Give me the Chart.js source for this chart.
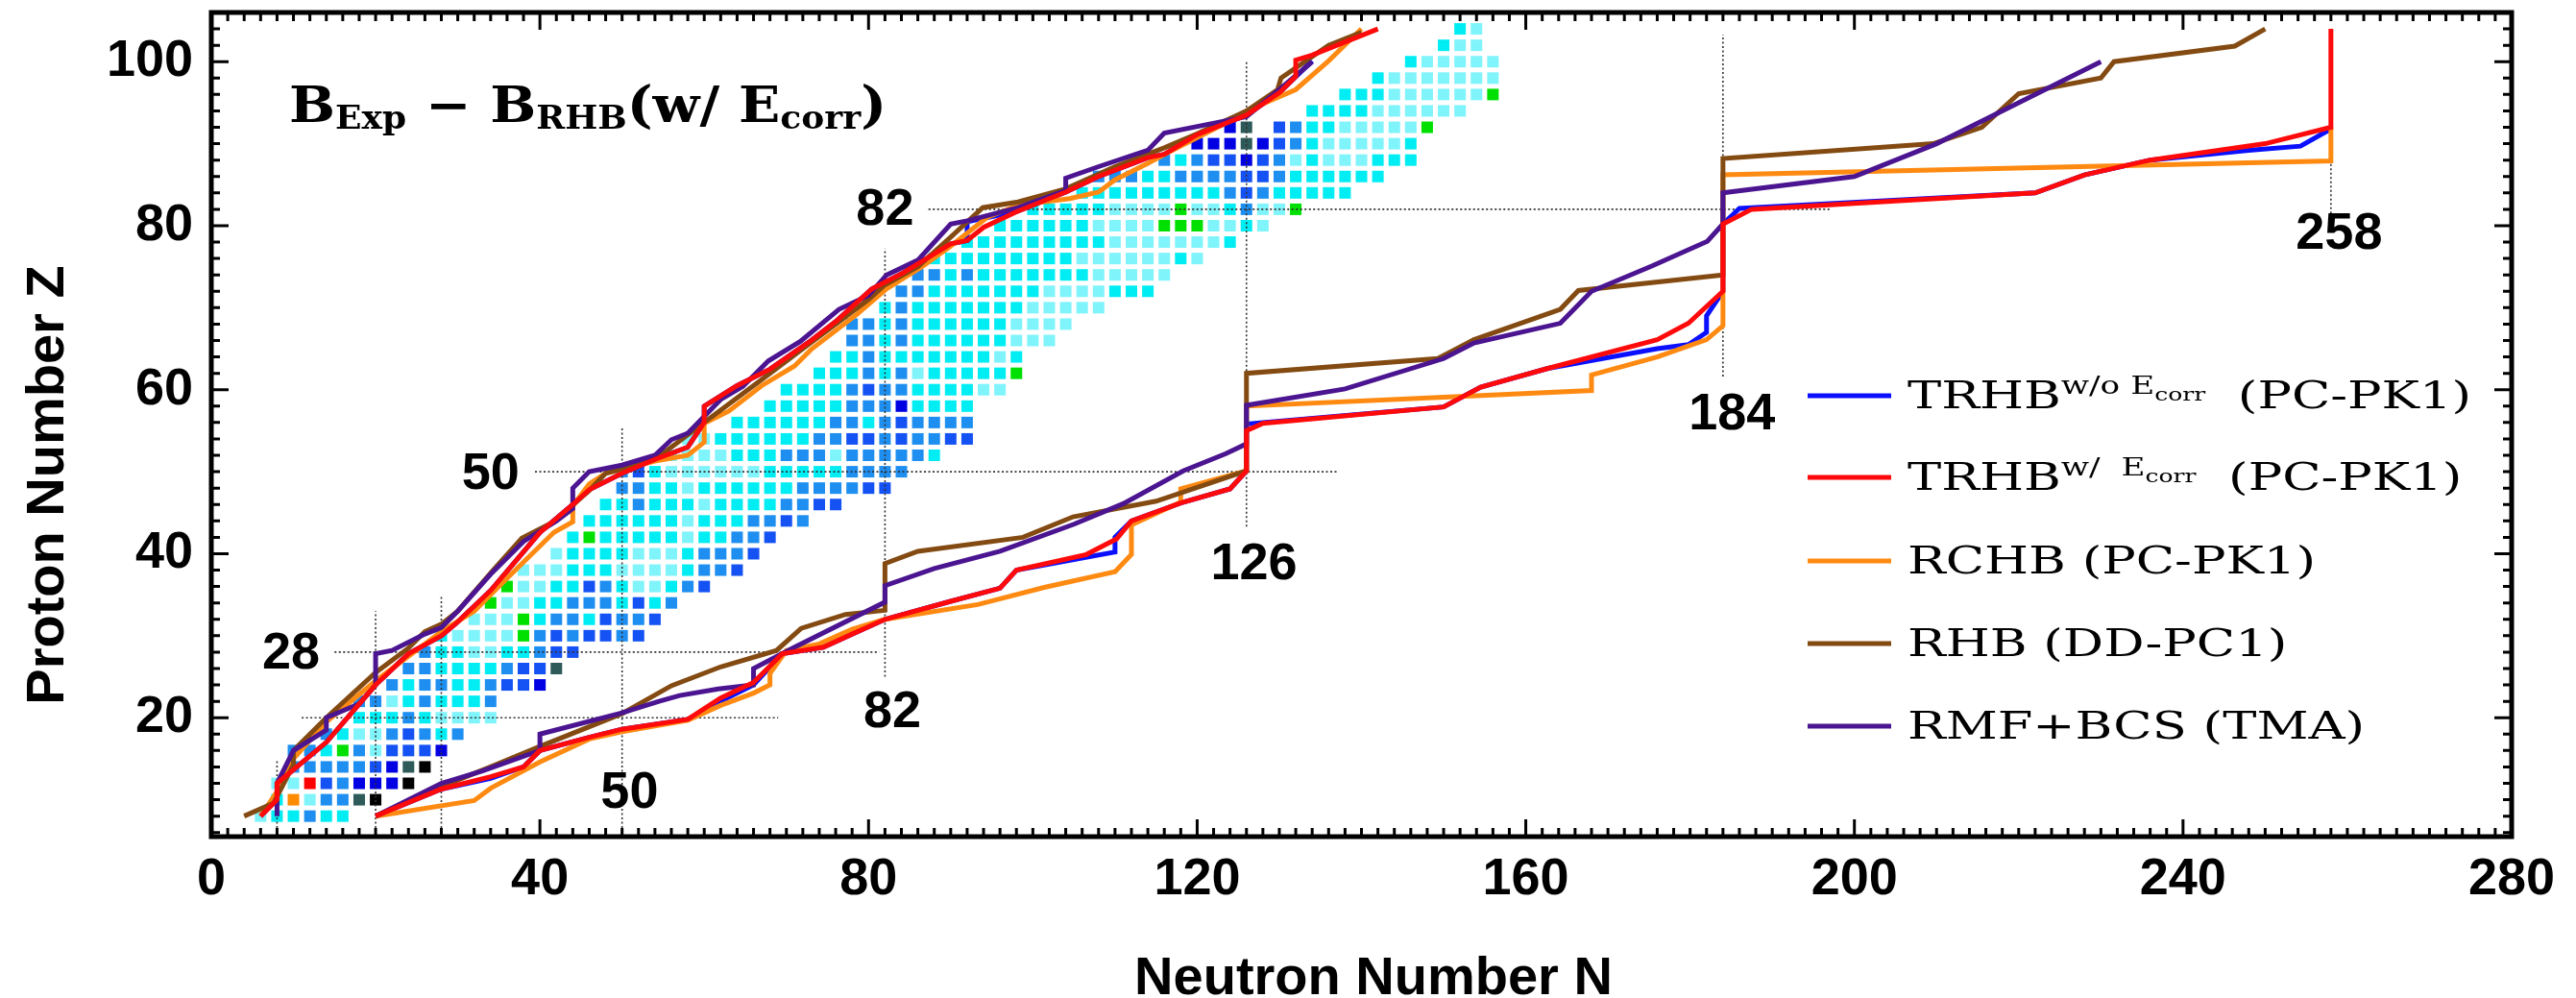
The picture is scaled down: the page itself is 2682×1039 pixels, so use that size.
<!DOCTYPE html>
<html>
<head>
<meta charset="utf-8">
<script src="https://cdn.jsdelivr.net/npm/chart.js@4.4.1/dist/chart.umd.min.js"></script>
<style>
  html, body { margin: 0; background: #fff; }
  canvas { display: block; }
</style>
</head>
<body>
<canvas id="chart" width="2682" height="1039"></canvas>
<script>
// --- axis ticks ---
const xTickValues = [0, 40, 80, 120, 160, 200, 240, 280];
const yTickValues = [20, 40, 60, 80, 100];

// --- experimental even-even nuclei: one row per Z, squares every 2 in N ---
// L light cyan, C cyan, M mid blue, B blue, D dark blue, G green, S slate, K black, R red, O orange
const rowZ = [8, 10, 12, 14, 16, 18, 20, 22, 24, 26, 28, 30, 32, 34, 36, 38, 40, 42, 44, 46, 48, 50,
  52, 54, 56, 58, 60, 62, 64, 66, 68, 70, 72, 74, 76, 78, 80, 82, 84, 86, 88, 90, 92, 94, 96, 98, 100, 102, 104];
const rowStartN = [6, 8, 8, 10, 10, 14, 18, 18, 22, 24, 26, 28, 32, 34, 36, 38, 42, 44, 46, 48, 50, 50,
  56, 58, 64, 68, 70, 74, 76, 78, 78, 82, 84, 86, 88, 92, 96, 100, 106, 108, 116, 120, 124, 134, 138, 142, 146, 150, 152];
const rowColors = [
  "LCCMCC", "COLMMSK", "LLRBMDDDK", "MMMMMBDSK", "MMCGMLBBBD", "MCLLMBMCM", "CCCMCLLLL",
  "MMLCMCCCM", "MCMMCCMBBD", "MMCCCCMBBS", "MCCLLCCMBB", "CLLLLGMBMBBMB", "LLLGCMMCBMMB",
  "GLLCCMMMCBCM", "GLLCCBMCLLCMB", "LLLCCCLLLLCMMB", "LCCCCLLLCMMMB", "CGCCCCCLCCMMB",
  "CCCCCCLCCCMMBM", "CCMCCCLCCCCMMBB", "MMCCLCCCCCCMMMMBB", "MBCLLLLLLCCCCCMMMM",
  "LLLLCCCMMMLMMMMMC", "LLCCCCCCMMBBMBMMBB", "CCCCCCMMCMBMMMM", "CCCCCMMMDCCCC",
  "CCCCMBMMCCCCLL", "CCCMCMLCCCCCG", "CCMCCCCCCCLC", "MMCMCCCCCCLLL", "MMCMCCCCCCLLLL",
  "CMCCCCCCCLLLLL", "MMCCCCCCCLLLLCCC", "MMCMCCCCCCCLLLLL", "CCCCCCCCCLLLLLLCL",
  "CCCCCCCCCLLLLLLLC", "CCCCCCLLLLGGGLLCL", "CCCCCLLLLGLLCMLLG", "CCCCCCCCCMBMCCCCC",
  "MMMCCMMMMBBMCCCCCC", "MCMBBDBMLCLLLCCC", "DDDSDBMCLLLLLC", "DS.BMCCLLLLLG",
  "CCCCLLLLLL", "CCCLLLLLLG", "CLLLLLLL", "CLLLLL", "CLL", "CL"
];
const squareColors = {
  L: '#80f4fb', C: '#00eef3', M: '#1e8ff0', B: '#1552f4', D: '#0000e2',
  G: '#00e000', S: '#2f5a5a', K: '#000000', R: '#ff0000', O: '#ff8c00'
};

// --- drip lines [N, Z]: proton side (upper left) and neutron side (lower right) ---
const trhbWoProton = [[6,8],[8,10],[8,12],[14,17],[20,24],[24,27.8],[28,30],[30,31.7],[34,35.5],[40,42.6],[44,46],[46,47.8],[50,49.8],[54,51.5],[58,53],[60,56],[60,58],[64,60.5],[68,62.5],[73,66],[76,68.3],[80.4,72.3],[84.3,74.3],[90,77.8],[92,78.2],[92,80.5],[98,81.7],[104,84.1],[108,86],[114,88.3],[116,88.7],[120,91.1],[126,93.5],[130,96.2],[134,100.1]];
const trhbWProton = [[6,8],[8,10],[8,12],[14,17],[20,24],[24,27.8],[28,30],[30,31.7],[34,35.5],[40,42.6],[44,46],[46,47.8],[50,49.8],[54,51.5],[58,53],[60,56],[60,58],[64,60.5],[68,62.5],[73,66],[76,68.3],[80.4,72.3],[84.3,74.3],[90,77.8],[92,78.2],[94,79.8],[98,81.7],[104,84.1],[108,86],[114,88.3],[116,88.7],[120,91.1],[126,93.5],[130,96.2],[132,98.2],[132,100.2],[134,100.8],[142,104]];
const rchbProton = [[6,8],[8,11],[10,15],[14,19.5],[20,24.5],[24,27.5],[28,30.5],[32,33],[36,37],[41.7,42.6],[44,43.9],[44,45.8],[46,48.5],[48,49.8],[54,51.3],[58,52],[60,53.6],[60,55.9],[63,57.4],[67,60.5],[71,62.9],[73,64.9],[78.6,69.2],[82.2,72.3],[86.5,75],[90,77.5],[94.4,81],[98.2,82.5],[104.5,83.3],[108,84.1],[110,85.6],[114,87.6],[116,88.7],[124,92.8],[126,94],[132,96.6],[136,100.1],[140,104]];
const rhbProton = [[4,8],[7.6,9.6],[10,14.3],[10,16],[14,20],[20,25.5],[24,28.5],[26,30.5],[28,31.4],[30,33],[34.3,38],[37.8,41.9],[41.7,43.9],[46,47.7],[48,49.8],[54,51.5],[56,53],[60,56],[64,59],[68,62],[72,65],[76,68],[80,71],[82,72.8],[86,75],[90,78.6],[93.9,82.2],[98.2,82.9],[104,84.5],[110,87.2],[116,89.5],[120,91.2],[126,94],[129.8,96.6],[130.2,98],[136,102],[140,103.6]];
const rmfProton = [[8,8],[8,12],[10,16],[14,18.5],[14,20],[18,21.7],[20,24],[20,27.8],[22,28.2],[26,30.2],[28,31],[30,33],[34,37.5],[38,41.5],[42,44],[44,45.5],[44,48],[46,50],[50,50.8],[54,52],[56,53.9],[58,54.7],[62,58.8],[64.7,60.4],[67.8,63.5],[71.7,65.9],[76.4,69.8],[80,71.5],[82.2,74],[86,75.8],[90,80.2],[92,80.6],[98.2,82.2],[104,84.3],[104,85.8],[108,87.2],[114,89.2],[116,91.3],[124,92.9],[126,93.3],[130,96.6],[134,100]];

const trhbWoNeutron = [[20,8],[28,11.3],[34,12.6],[38,14],[40,16],[46,17.6],[50,18.6],[58,19.8],[62,22],[66,24],[69.5,27.8],[74.5,28.6],[78,30.2],[82,32],[90,34.2],[96,35.8],[98,38],[110,40.2],[110,42],[112,44],[118,46.2],[124,47.9],[126,50.1],[126,55.8],[128,56],[150,57.9],[154.5,60.3],[162.7,62.6],[176,65],[179.8,65.5],[182,67],[182,69],[184,72],[184,80.2],[186,82.1],[222,84],[228,86.2],[236,88],[248,89.2],[254.3,89.7],[258,91.8]];
const trhbWNeutron = [[20,8],[28,11.3],[34,12.8],[38,14],[40,16],[46,17.6],[50,18.6],[58,19.8],[62,22.4],[66,24.3],[69.5,27.8],[74.5,28.6],[78,30.2],[82,32],[90,34.2],[96,35.8],[98,38],[106.5,39.9],[110.2,41.8],[112,44],[118,46.2],[124,47.9],[126,50.1],[126,55],[128,55.9],[150,57.9],[154.5,60.3],[162.7,62.6],[176,66.1],[179.8,68.1],[184,72],[184,80.2],[187.5,82],[222,84],[228,86.2],[236,88],[250,90],[258,92],[258,104]];
const rchbNeutron = [[20,8],[32,9.9],[34,11.4],[40,14.6],[46,17.4],[50,18.3],[58,19.7],[62,21.5],[66,23],[68,24],[68,25.4],[70,28.2],[74,29],[78,30.8],[82,32],[93.3,33.8],[101.4,35.9],[110,37.8],[112,39.9],[112,43.5],[118,46.3],[118,47.9],[126,50.1],[126,58],[168,59.9],[168,61.8],[176,64],[182,66.1],[184,67.8],[184,86.2],[258,87.9],[258,92]];
const rhbNeutron = [[20,8],[28,11.6],[34,14],[40,16.5],[50,20.5],[56,23.9],[62,26.2],[68.8,28.2],[71.8,30.9],[77.2,32.6],[82,33.1],[82,38.8],[86,40.3],[98.8,42],[104.9,44.5],[115,46.4],[126,50.1],[126,62],[149.3,63.8],[153.7,66.1],[164.2,69.8],[166.4,72.1],[184,74],[184,88.2],[209.6,90],[215.5,92],[220,96.1],[230,98],[231.6,100],[246.3,101.9],[250,104]];
const rmfNeutron = [[20,8],[28,12],[33,13.5],[40,16],[40,18],[50,20.6],[54.5,22],[57,22.7],[61.7,23.5],[66,24],[66,26],[71,28.6],[82,34.1],[82,36.1],[88,38.2],[96,40.3],[105,43.6],[111,46.1],[118.3,50.1],[123.5,52.2],[126,53.4],[126,58.1],[138,60.1],[150,63.8],[153.7,65.7],[164.2,68.1],[168,72],[175.4,75.1],[182.1,78.1],[184,80.2],[184,84],[200,86],[210,90],[216,93],[230,100]];

// --- magic numbers: dotted guide lines and their labels ---
const magicVertical = [[8, 5.5, 15], [20, 5.5, 33], [28, 5.5, 35], [50, 5.5, 55.3], [82, 25, 77.2], [126, 43.3, 100], [184, 61.6, 103.3], [258, 81.5, 104]];
const magicHorizontal = [[20, 11, 69], [28, 15, 81.3], [50, 39.4, 137], [82, 87.3, 197]];
const magicLabels = ['28', '50', '82', '50', '82', '126', '184', '258'];
const magicLabelN = [9.7, 34, 82, 50.9, 82.9, 126.9, 185.1, 259];
const magicLabelZ = [27.8, 49.7, 81.9, 10.8, 20.6, 38.6, 56.9, 78.9];

// --- models (legend order) ---
const modelColors = ['#0a10ff', '#ff0a0a', '#ff8a12', '#834a12', '#4b1490'];
const modelProton = [trhbWoProton, trhbWProton, rchbProton, rhbProton, rmfProton];
const modelNeutron = [trhbWoNeutron, trhbWNeutron, rchbNeutron, rhbNeutron, rmfNeutron];
const modelOrder = [5, 1, 4, 3, 2];
const legendLabels = [
  [['TRHB', 'n'], ['w/o', 'p'], [' E', 'p'], ['corr', 'q'], ['  (PC-PK1)', 'n']],
  [['TRHB', 'n'], ['w/', 'p'], ['  E', 'p'], ['corr', 'q'], ['  (PC-PK1)', 'n']],
  [['RCHB (PC-PK1)', 'n']],
  [['RHB (DD-PC1)', 'n']],
  [['RMF+BCS (TMA)', 'n']]
];
const titleParts = [['B', 'm'], ['Exp', 's'], [' \u2212 ', 'm'], ['B', 'm'], ['RHB', 's'], ['(', 'm'],
  ['w/ ', 'm'], ['E', 'm'], ['corr', 's'], [')', 'm']];

const pts = arr => arr.map(([x, y]) => ({x, y}));

// squares
const squarePoints = [];
const squareFill = [];
rowZ.forEach((z, i) => {
  [...rowColors[i]].forEach((c, j) => {
    if (c === '.') return;
    squarePoints.push({x: rowStartN[i] + 2 * j, y: z});
    squareFill.push(squareColors[c]);
  });
});

const datasets = [{
  data: squarePoints,
  pointStyle: 'rect',
  pointRadius: 8.5,
  pointHoverRadius: 8.5,
  pointBackgroundColor: squareFill,
  pointBorderWidth: 0,
  showLine: false,
  order: 20
}];

magicVertical.forEach(([n, z0, z1]) => datasets.push({
  data: [{x: n, y: z0}, {x: n, y: z1}], showLine: true, pointRadius: 0,
  borderColor: '#333', borderWidth: 1.6, borderDash: [2, 2.5], order: 15
}));
magicHorizontal.forEach(([z, n0, n1]) => datasets.push({
  data: [{x: n0, y: z}, {x: n1, y: z}], showLine: true, pointRadius: 0,
  borderColor: '#333', borderWidth: 1.6, borderDash: [2, 2.5], order: 15
}));

modelColors.forEach((col, i) => {
  [modelProton[i], modelNeutron[i]].forEach(line => datasets.push({
    data: pts(line), showLine: true, pointRadius: 0, borderColor: col,
    borderWidth: 5, fill: false, tension: 0, order: modelOrder[i]
  }));
});

// rich text helpers
function partsWidth(ctx, parts, styles) {
  let w = 0;
  for (const [t, k] of parts) { ctx.font = styles[k].font; w += ctx.measureText(t).width; }
  return w;
}
function drawParts(ctx, parts, styles, x, y, sx) {
  ctx.save();
  ctx.translate(x, y);
  ctx.scale(sx, 1);
  let cx = 0;
  for (const [t, k] of parts) {
    ctx.font = styles[k].font;
    ctx.fillText(t, cx, styles[k].dy);
    cx += ctx.measureText(t).width;
  }
  ctx.restore();
}

const legendStyles = {
  n: {font: '40px "DejaVu Serif"', dy: 0},
  p: {font: '26px "DejaVu Serif"', dy: -15},
  q: {font: '19px "DejaVu Serif"', dy: -8}
};
const titleStyles = {
  m: {font: 'bold 52px "DejaVu Serif"', dy: 0},
  s: {font: 'bold 33px "DejaVu Serif"', dy: 7}
};

const decor = {
  id: 'decor',
  afterDraw(chart) {
    const {ctx, chartArea: a, scales: {x, y}} = chart;
    ctx.save();
    ctx.strokeStyle = '#000';
    ctx.fillStyle = '#000';

    // inward ticks on all four sides
    ctx.lineWidth = 3;
    ctx.beginPath();
    for (let v = 0; v <= 280; v += 2) {
      const px = x.getPixelForValue(v);
      const len = v % 40 === 0 ? 18 : 9;
      ctx.moveTo(px, a.bottom); ctx.lineTo(px, a.bottom - len);
      ctx.moveTo(px, a.top); ctx.lineTo(px, a.top + len);
    }
    for (let v = 6; v <= 106; v += 2) {
      const py = y.getPixelForValue(v);
      const len = v % 20 === 0 ? 18 : 9;
      ctx.moveTo(a.left, py); ctx.lineTo(a.left + len, py);
      ctx.moveTo(a.right, py); ctx.lineTo(a.right - len, py);
    }
    ctx.stroke();

    // frame
    ctx.lineWidth = 5;
    ctx.strokeRect(a.left, a.top, a.right - a.left, a.bottom - a.top);

    // magic number labels
    ctx.font = 'bold 54px "Liberation Sans", Arial, sans-serif';
    ctx.textAlign = 'center';
    ctx.textBaseline = 'middle';
    magicLabels.forEach((t, i) => {
      ctx.fillText(t, x.getPixelForValue(magicLabelN[i]), y.getPixelForValue(magicLabelZ[i]));
    });

    // formula in the upper left
    ctx.textAlign = 'left';
    ctx.textBaseline = 'alphabetic';
    const tsx = 622 / partsWidth(ctx, titleParts, titleStyles);
    drawParts(ctx, titleParts, titleStyles, 301, 127, tsx);

    // legend
    const lsx = 425 / partsWidth(ctx, legendLabels[2], legendStyles);
    const rowY = [412, 497, 584, 670, 756];
    legendLabels.forEach((parts, i) => {
      ctx.strokeStyle = modelColors[i];
      ctx.lineWidth = 5;
      ctx.beginPath();
      ctx.moveTo(1882, rowY[i]); ctx.lineTo(1969, rowY[i]);
      ctx.stroke();
      ctx.fillStyle = '#000';
      drawParts(ctx, parts, legendStyles, 1986, rowY[i] + 13, lsx);
    });

    // axis titles
    ctx.font = 'bold 56px "Liberation Sans", Arial, sans-serif';
    ctx.textAlign = 'center';
    ctx.fillText('Neutron Number N', 1430, 1035);
    ctx.save();
    ctx.translate(66, 505);
    ctx.rotate(-Math.PI / 2);
    ctx.fillText('Proton Number Z', 0, 0);
    ctx.restore();

    ctx.restore();
  }
};

const tickFont = {family: '"Liberation Sans", Arial, sans-serif', weight: 'bold', size: 54};

new Chart(document.getElementById('chart'), {
  type: 'scatter',
  data: {datasets},
  options: {
    responsive: false,
    animation: false,
    devicePixelRatio: 1,
    layout: {padding: {top: 13, right: 67, left: 0, bottom: 0}},
    plugins: {legend: {display: false}, tooltip: {enabled: false}},
    scales: {
      x: {
        type: 'linear', min: 0, max: 280,
        grid: {display: false, drawTicks: false},
        border: {display: false},
        ticks: {font: tickFont, color: '#000', padding: 13, maxRotation: 0, autoSkip: false},
        afterBuildTicks: s => { s.ticks = xTickValues.map(v => ({value: v})); },
        afterFit: s => { s.height = 168; s.paddingLeft = 0; s.paddingRight = 0; }
      },
      y: {
        type: 'linear', min: 5.5, max: 106,
        grid: {display: false, drawTicks: false},
        border: {display: false},
        ticks: {font: tickFont, color: '#000', padding: 19, autoSkip: false},
        afterBuildTicks: s => { s.ticks = yTickValues.map(v => ({value: v})); },
        afterFit: s => { s.width = 220; s.paddingTop = 0; s.paddingBottom = 0; }
      }
    }
  },
  plugins: [decor]
});
</script>
</body>
</html>
